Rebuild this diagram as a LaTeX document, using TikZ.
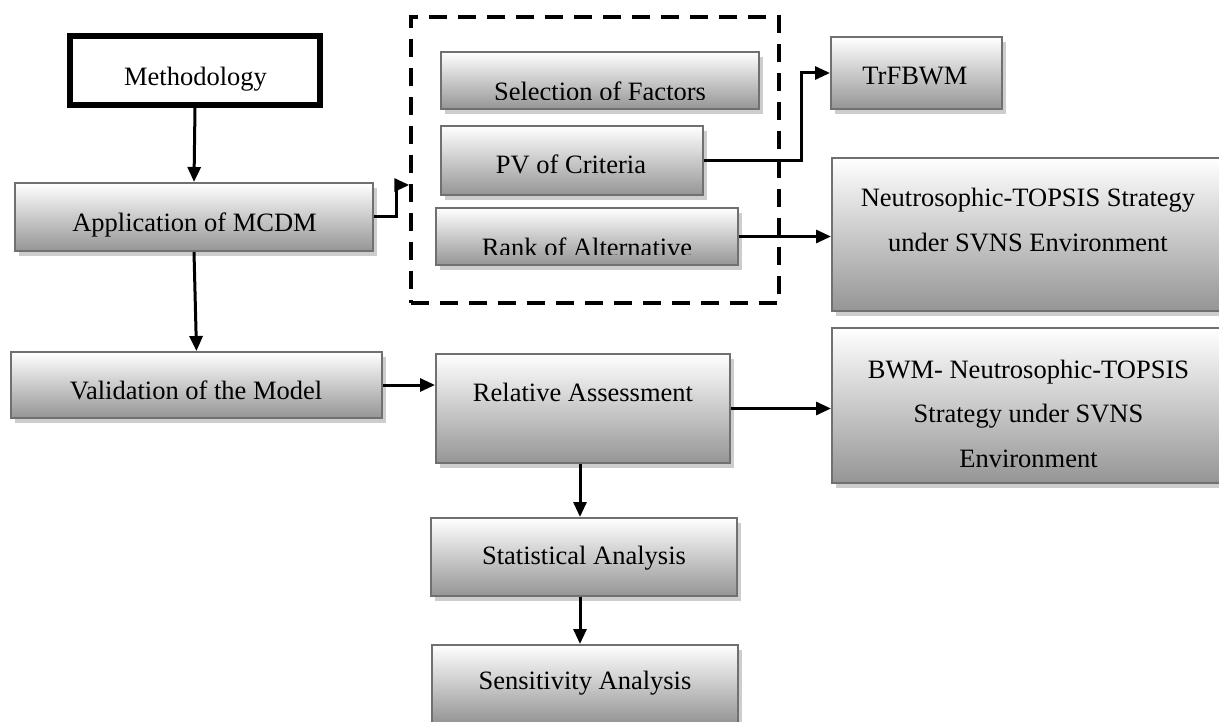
\documentclass[tikz,border=0pt]{standalone}
\usepackage{fontspec}
\setmainfont{Liberation Serif}
\usetikzlibrary{arrows.meta,shadows,calc}
\definecolor{bordergray}{HTML}{707070}
\definecolor{shadowgray}{HTML}{CDCDCD}
\definecolor{shadebottom}{HTML}{959595}
\begin{document}
\begin{tikzpicture}[x=1pt,y=-1pt,
  gbox/.style={rectangle, draw=bordergray, line width=2pt, top color=white, bottom color=shadebottom,
    drop shadow={shadow xshift=4pt, shadow yshift=-5pt, fill=shadowgray, opacity=1}, inner sep=0pt},
  lbl/.style={font=\fontsize{26.5}{44.5}\selectfont, inner sep=0pt, text height=19.9pt, text depth=6.6pt},
  mlbl/.style={font=\fontsize{26.5}{44.5}\selectfont, inner sep=0pt, align=center},
  arr/.style={line width=3pt, -{Triangle[length=15pt,width=13pt]}},
]
\useasboundingbox (0,0) rectangle (1219,722);
\clip (0,0) rectangle (1219,722);
\fill[white] (0,0) rectangle (1219,722);
\newcommand{\lstrut}{\vphantom{hgy}}

% dashed group
\node[draw, dashed, line width=3.5pt, dash pattern=on 18pt off 11pt, minimum width=368pt, minimum height=286pt, inner sep=0pt] (grp) at (595,160) {};

% boxes
\node[draw=black, line width=6pt, fill=white, minimum width=250pt, minimum height=69pt, inner sep=0pt] (meth) at (195,70.5) {};
\node[gbox, minimum width=358pt, minimum height=68pt] (app) at (194,217) {};
\node[gbox, minimum width=318pt, minimum height=57pt] (sel) at (600,80.5) {};
\node[gbox, minimum width=262pt, minimum height=69pt] (pv) at (572,160.5) {};
\node[gbox, minimum width=302pt, minimum height=57pt] (rank) at (587,236.5) {};
\node[gbox, minimum width=171pt, minimum height=72pt] (trf) at (916.5,73) {};
\node[gbox, minimum width=392pt, minimum height=153pt] (neut) at (1028,234.5) {};
\node[gbox, minimum width=392pt, minimum height=155pt] (bwm) at (1028,405.5) {};
\node[gbox, minimum width=371pt, minimum height=66pt] (val) at (196.5,385) {};
\node[gbox, minimum width=294pt, minimum height=109pt] (rel) at (583,408.5) {};
\node[gbox, minimum width=306pt, minimum height=78pt] (stat) at (584,557) {};
\node[gbox, minimum width=306pt, minimum height=78pt] (sens) at (585,684) {};

% texts
\node[lbl] (methT) at (195.5,79) {Methodology};
\node[lbl] (appT) at (194.5,225) {Application of MCDM};
\begin{scope}
  \clip (441,52) rectangle (759,99.5);
  \node[lbl] (selT) at (600,94) {Selection of Factors};
\end{scope}
\node[lbl] (pvT) at (571,167) {PV of Criteria};
\begin{scope}
  \clip (436,208) rectangle (738,255);
  \node[lbl] (rankT) at (587,250) {Rank of Alternative};
\end{scope}
\node[lbl] (trfT) at (915,78) {TrFBWM};
\node[mlbl] (neutT) at (1028,222.5) {\lstrut Neutrosophic-TOPSIS Strategy\\ under SVNS Environment\lstrut};
\node[mlbl] (bwmT) at (1028.5,416.5) {\lstrut BWM- Neutrosophic-TOPSIS\\ Strategy under SVNS\\ Environment\lstrut};
\node[lbl] (valT) at (196,393) {Validation of the Model};
\node[lbl] (relT) at (583,395) {Relative Assessment};
\node[lbl] (statT) at (584,558) {Statistical Analysis};
\node[lbl] (sensT) at (585,683) {Sensitivity Analysis};

% connectors
\coordinate (grpIn) at (0,185);
\draw[arr] (meth.south) -- (app.north);
\draw[arr] (app.east) -- ++(22,0) |- (grp.west |- grpIn);
\draw[arr] (app.south) -- (val.north);
\draw[arr] (val.east) -- (val.east -| rel.west);
\draw[arr] (pv.east) -- ++(97,0) |- (trf.west);
\draw[arr] (rank.east) -- (rank.east -| neut.west);
\draw[arr] (rel.east) -- (rel.east -| bwm.west);
\draw[arr] ([xshift=-3pt]rel.south) -- ([xshift=-3pt]rel.south |- stat.north);
\draw[arr] ([xshift=-4pt]stat.south) -- ([xshift=-4pt]stat.south |- sens.north);
\end{tikzpicture}
\end{document}
